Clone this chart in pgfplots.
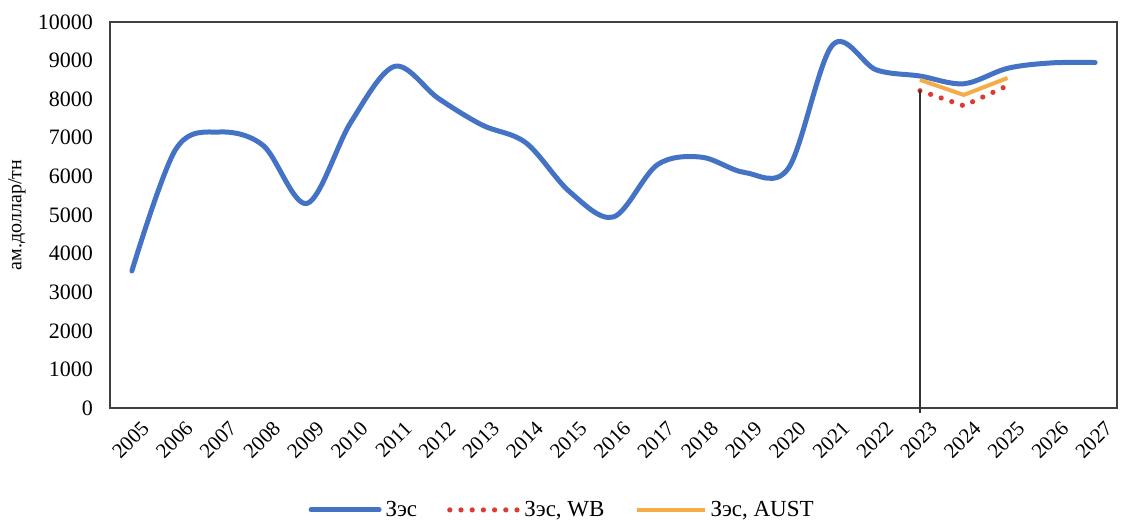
\documentclass[border=0pt]{standalone}
\usepackage{fontspec}
\setmainfont{Liberation Serif}
\usepackage{pgfplots}
\pgfplotsset{compat=1.18}
\definecolor{cblue}{RGB}{68,114,196}
\definecolor{cred}{RGB}{222,58,52}
\definecolor{corange}{RGB}{245,172,72}
\begin{document}
\begin{tikzpicture}
\begin{axis}[
  scale only axis,
  width=503.5pt, height=193pt,
  xmin=-0.5, xmax=22.5,
  ymin=0, ymax=10000,
  ytick={0,1000,...,10000},
  xtick={0,...,22},
  xticklabels={2005,2006,2007,2008,2009,2010,2011,2012,2013,2014,2015,2016,2017,2018,2019,2020,2021,2022,2023,2024,2025,2026,2027},
  x tick label style={rotate=45, anchor=north east, inner sep=1pt, yshift=-6pt, font=\rmfamily\fontsize{10.5}{12}\selectfont},
  y tick label style={xshift=-5pt, font=\rmfamily\fontsize{11}{13}\selectfont},
  /pgf/number format/assume math mode=true,
  scaled y ticks=false,
  yticklabel style={/pgf/number format/1000 sep={}},
  major tick length=0pt,
  axis line style={line width=1.4pt, black!75},
  ylabel={ам.доллар/тн},
  ylabel style={font=\rmfamily\fontsize{10}{12}\selectfont, at={(axis description cs:-0.0924,0.5)}, anchor=center},
  clip=false,
  legend style={at={(axis description cs:0.45,-0.264)}, anchor=center, draw=none,
    legend columns=-1, font=\rmfamily\fontsize{11.5}{13}\selectfont,
    /tikz/every even column/.append style={column sep=13pt}},
  legend image code/.code={\draw[#1] (0pt,0pt) -- (34pt,0pt);},
]
\addplot[cblue, line width=2.5pt, smooth, tension=0.55, line cap=round] coordinates {
 (0,3550) (1,6700) (2,7150) (3,6800) (4,5300) (5,7400) (6,8850) (7,8020)
 (8,7330) (9,6870) (10,5600) (11,4950) (12,6300) (13,6500) (14,6100) (15,6220)
 (16,9400) (17,8760) (18,8600) (19,8400) (20,8800) (21,8940) (22,8950)
};
\addlegendentry{Зэс}
\addplot[cred, line width=2.6pt, line cap=round, dash pattern=on 0pt off 5.6pt] coordinates {
 (18,8220) (19,7830) (20,8350)
};
\addlegendentry{Зэс, WB}
\addplot[corange, line width=2pt] coordinates {
 (18,8500) (19,8110) (20,8550)
};
\addlegendentry{Зэс, AUST}
\addplot[black!80, line width=0.6pt, forget plot] coordinates {(18,8250) (18,-130)};
\end{axis}
\pgfresetboundingbox
\path ([shift={(-55pt,-57pt)}]current axis.south west) rectangle ([shift={(2pt,11pt)}]current axis.north east);
\end{tikzpicture}
\end{document}
